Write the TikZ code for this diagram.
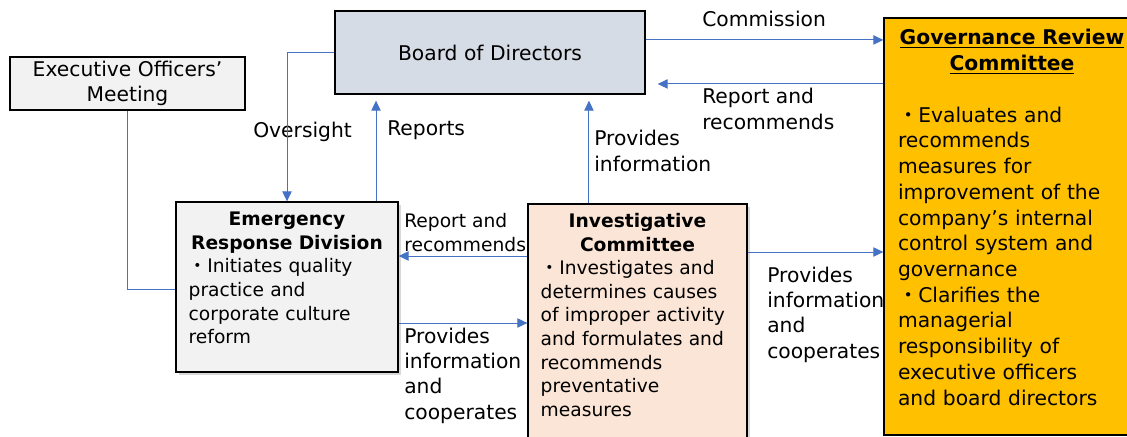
\documentclass[tikz,border=0pt]{standalone}
\usepackage{fontspec}
\setmainfont{DejaVu Sans}
\newfontfamily\cjk{Noto Sans CJK JP}
\usetikzlibrary{arrows.meta,shadows}
\definecolor{linkblue}{HTML}{4472C4}
\definecolor{boardfill}{HTML}{D6DCE5}
\definecolor{greyfill}{HTML}{F2F2F2}
\definecolor{peachfill}{HTML}{FBE5D6}
\definecolor{goldfill}{HTML}{FFC000}
\newcommand{\bul}{{\cjk ・}}
\newcommand{\lift}[1]{\par\vspace{#1}\hrule height 0pt width 0pt}
\tikzset{
  box/.style={draw=black, line width=1pt, inner xsep=10.5pt, inner ysep=0pt,
    font=\fontsize{15.2}{19.3}\selectfont},
  shbox/.style={box, inner xsep=9.5pt, drop shadow={opacity=0.3, shadow xshift=2pt, shadow yshift=-2pt},
    font=\fontsize{14}{17.7}\selectfont},
  flow/.style={draw=linkblue, line width=0.75pt, -{Triangle[length=7.5pt,width=7pt]}},
  link/.style={draw=linkblue, line width=0.75pt},
  lbl/.style={anchor=west, inner sep=0pt, align=left, font=\fontsize{15.2}{19}\selectfont},
  slbl/.style={lbl, font=\fontsize{14}{18}\selectfont}
}
\begin{document}
\begin{tikzpicture}[x=0.75pt,y=-0.75pt]
\clip (0,0) rectangle (1127,436);
\fill[white] (0,0) rectangle (1127,436);

\node[lbl] (lover) at (253,132) {Oversight};
\node[lbl] (lrep) at (387,130) {Reports};
\node[lbl] (lprov) at (594,151) {Provides\\information};
\node[lbl] (lcomm) at (702,19) {Commission};
\node[lbl] (lrecup) at (702,109) {Report and\\recommends};
\node[slbl] (lreclow) at (404,232.5) {Report and\\recommends};
\node[lbl] (lcoopleft) at (404,375.5) {Provides\\information\\and\\cooperates};
\node[lbl] (lcoopright) at (767,314.5) {Provides\\information\\and\\cooperates};

\node[box, fill=greyfill, minimum width=176.25pt, minimum height=39.75pt, align=center] (eom) at (127.5,83.5) {Executive Officers’\\Meeting};
\node[box, fill=boardfill, minimum width=232.5pt, minimum height=62.25pt] (board) at (490,52.5) {Board of Directors};
\node[shbox, fill=greyfill, text width=147.5pt, minimum height=127.5pt] (erd) at (287,287)
  {{\centering\bfseries Emergency\\Response Division\par}\raggedright\bul Initiates quality\\practice and\\corporate culture\\reform\lift{13.5pt}};
\node[shbox, fill=peachfill, text width=145.25pt, minimum height=177pt] (ic) at (637.5,322)
  {{\centering\bfseries Investigative\\Committee\par}\raggedright\bul Investigates and\\determines causes\\of improper activity\\and formulates and\\recommends\\preventative\\measures\lift{10.5pt}};
\node[box, fill=goldfill, text width=171pt, minimum height=312.75pt] (grc) at (1012,226.5)
  {{\centering\bfseries\underline{Governance Review}\\\underline{Committee}\par}\vspace{\baselineskip}\raggedright\bul Evaluates and\\recommends\\measures for\\improvement of the\\company’s internal\\control system and\\governance\\\bul Clarifies the\\managerial\\responsibility of\\executive officers\\and board directors\lift{13.5pt}};

\draw[flow] (board.west) -| (erd.north);
\draw[flow, shorten >=4.5pt] ([xshift=66.75pt]erd.north) -- ([xshift=66.75pt]erd.north |- board.south);
\draw[flow, shorten >=4.5pt] ([xshift=-36.4pt]ic.north) -- ([xshift=-36.4pt]ic.north |- board.south);
\draw[flow] ([yshift=9.4pt]board.east) -- ([yshift=9.4pt]board.east -| grc.west);
\draw[flow, shorten >=9pt] ([yshift=-23.6pt]board.east -| grc.west) -- ([yshift=-23.6pt]board.east);
\draw[link] (eom.south) |- ([yshift=-1.5pt]erd.west);
\draw[flow] ([yshift=23.25pt]erd.east -| ic.west) -- ([yshift=23.25pt]erd.east);
\draw[flow] ([yshift=-27pt]erd.east) -- ([yshift=-27pt]erd.east -| ic.west);
\draw[flow] ([yshift=52.5pt]ic.east) -- ([yshift=52.5pt]ic.east -| grc.west);
\end{tikzpicture}
\end{document}
